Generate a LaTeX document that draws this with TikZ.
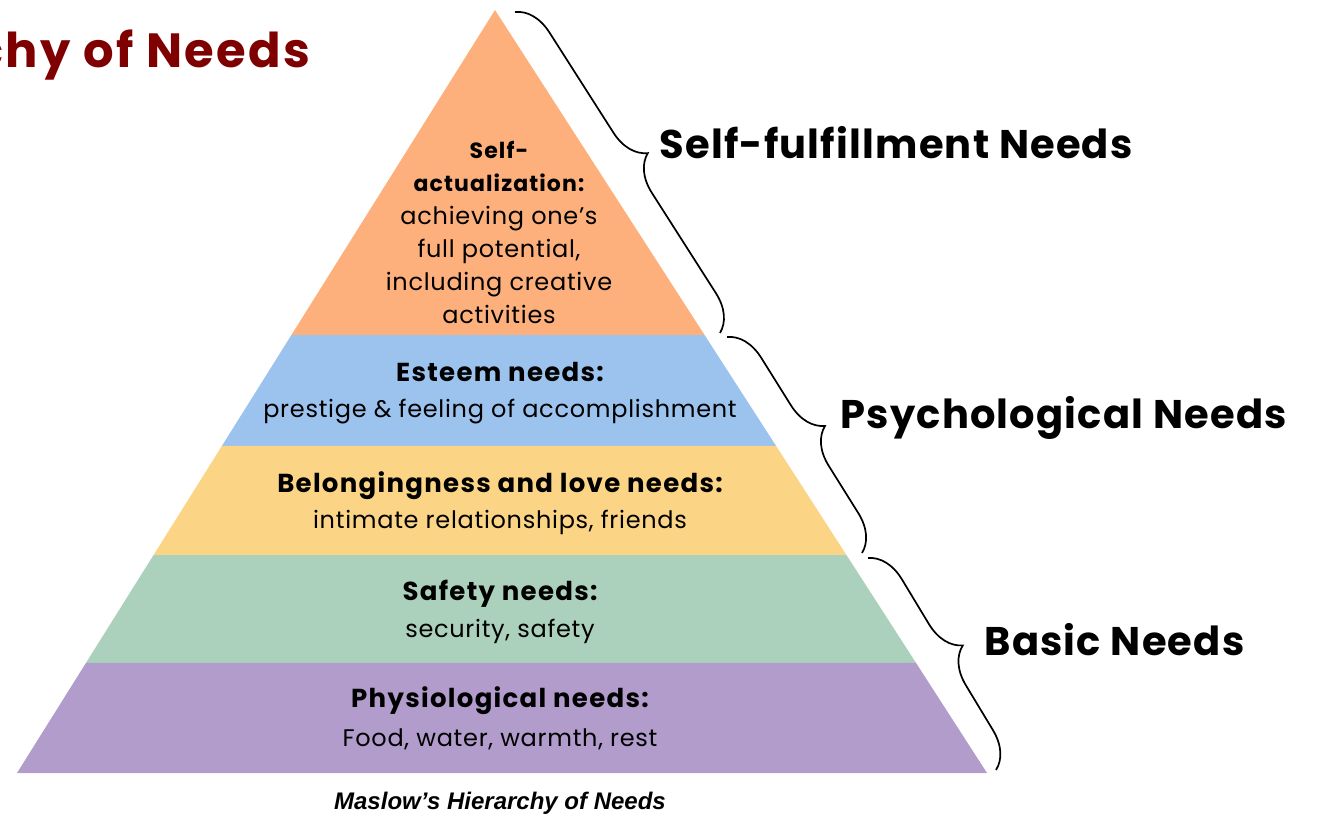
\documentclass[tikz,border=0pt]{standalone}
\usepackage{fontspec}
\setmainfont{Poppins}[LetterSpace=3]
\newfontfamily\hdfont{Poppins}[LetterSpace=5]
\newfontfamily\capfont{Liberation Sans}
\usepackage{xcolor}
\usetikzlibrary{calc}
\usetikzlibrary{decorations.pathreplacing}

\definecolor{titlered}{HTML}{7F0000}
\definecolor{saorange}{HTML}{FDB07C}
\definecolor{esblue}{HTML}{9CC3EE}
\definecolor{blyellow}{HTML}{FBD585}
\definecolor{sfgreen}{HTML}{ABD0BB}
\definecolor{phpurple}{HTML}{B19CCB}

\newcommand{\hd}{\hdfont\bfseries\fontsize{26}{33}\selectfont}
\newcommand{\hdsm}{\hdfont\bfseries\fontsize{22}{33}\selectfont}

\begin{document}
\begin{tikzpicture}[x=1pt,y=-1pt,
    lbl/.style={align=center,font=\fontsize{24}{33}\selectfont},
    grp/.style={anchor=west,font=\fontsize{40}{44}\selectfont\bfseries},
    brc/.style={decorate,decoration={brace,amplitude=36pt},line width=1.7pt}]
  \useasboundingbox (0,0) rectangle (1322,821);
  \clip (0,0) rectangle (1322,821);

  % pyramid corners and layer edges
  \coordinate (ap) at (495,10);
  \coordinate (bl) at (17,773);
  \coordinate (br) at (987,773);
  \path ($(ap)!.4260!(bl)$) coordinate (l1) ($(ap)!.4260!(br)$) coordinate (r1)
    ($(ap)!.5714!(bl)$) coordinate (l2) ($(ap)!.5714!(br)$) coordinate (r2)
    ($(ap)!.7143!(bl)$) coordinate (l3) ($(ap)!.7143!(br)$) coordinate (r3)
    ($(ap)!.8558!(bl)$) coordinate (l4) ($(ap)!.8558!(br)$) coordinate (r4);

  \fill[saorange] (ap) -- (r1) -- (l1) -- cycle;
  \fill[esblue] (l1) -- (r1) -- (r2) -- (l2) -- cycle;
  \fill[blyellow] (l2) -- (r2) -- (r3) -- (l3) -- cycle;
  \fill[sfgreen] (l3) -- (r3) -- (r4) -- (l4) -- cycle;
  \fill[phpurple] (l4) -- (r4) -- (br) -- (bl) -- cycle;

  \node (sa) [lbl] at (499,232) {{\hdsm Self-}\\{\hdsm actualization:}\\achieving one’s\\full potential,\\including creative\\activities};
  \node (es) [lbl] at (500,393) {{\hd Esteem needs:}\\[3pt]prestige \& feeling of accomplishment};
  \node (bl) [lbl] at (500,503) {{\hd Belongingness and love needs:}\\[3pt]intimate relationships, friends};
  \node (sf) [lbl] at (500,612) {{\hd Safety needs:}\\[4pt]security, safety};
  \node (ph) [lbl] at (500,718) {{\hd Physiological needs:}\\[6pt]Food, water, warmth, rest};

  \node (ttl) [anchor=east,text=titlered,font=\hdfont\fontsize{48}{52}\selectfont\bfseries]
    at (314,55) {Hierarchy of Needs};
  \node (cap) [font=\capfont\fontsize{24}{28}\selectfont\bfseries\itshape]
    at (500,803) {Maslow’s Hierarchy of Needs};

  % braces on the right
  \coordinate (b1s) at (515,12);
  \coordinate (b1e) at (720,333);
  \coordinate (b2s) at (727,337);
  \coordinate (b2e) at (862,553);
  \coordinate (b3s) at (868,558);
  \coordinate (b3e) at (996,770);
  \draw[brc] (b1s) -- (b1e);
  \draw[brc] (b2s) -- (b2e);
  \draw[brc] (b3s) -- (b3e);
  \node (sfn) [grp] at (656,143) {Self-fulfillment Needs};
  \node (psn) [grp] at (837,418) {Psychological Needs};
  \node (bsn) [grp] at (981,640) {Basic Needs};
\end{tikzpicture}
\end{document}
